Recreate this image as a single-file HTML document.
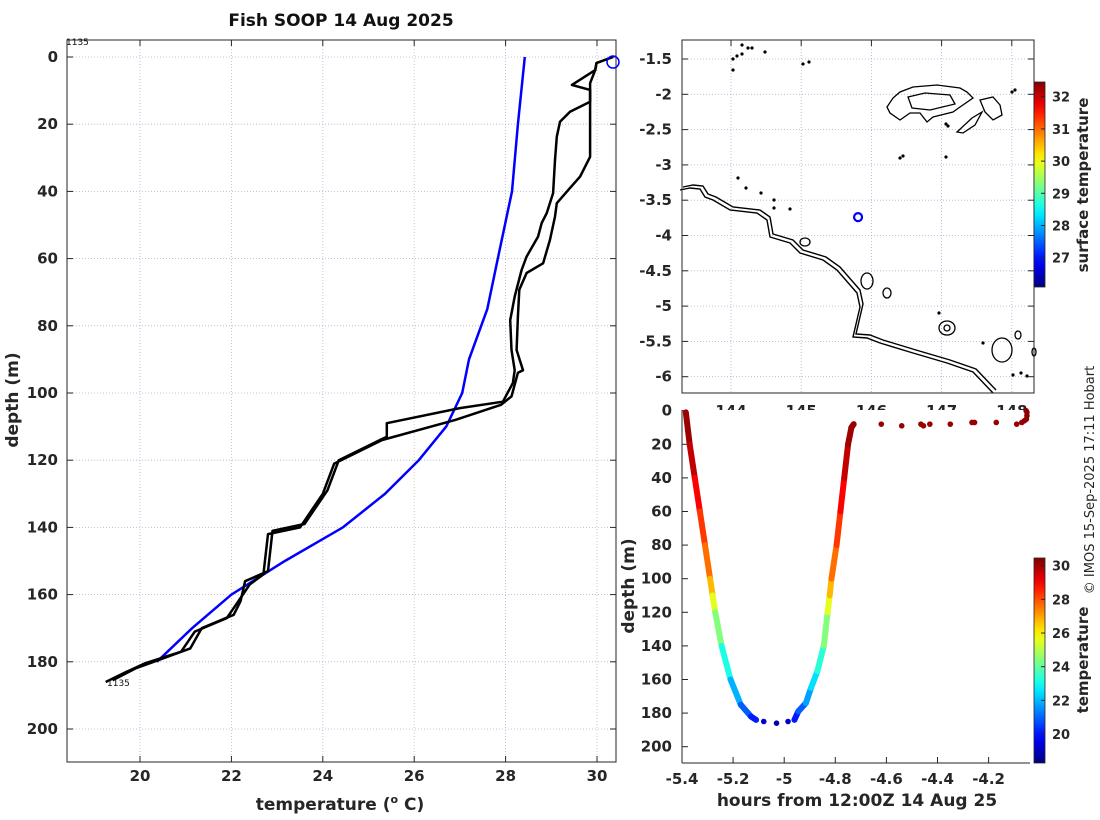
<!DOCTYPE html>
<html><head><meta charset="utf-8"><style>
html,body{margin:0;padding:0;background:#fff;}
svg{display:block;font-family:"DejaVu Sans","Liberation Sans",sans-serif;}
.t{font-weight:bold;font-size:15px;fill:#262626;}
</style></head><body>
<svg id="s" width="1100" height="820" viewBox="0 0 1100 820">
<defs>
<linearGradient id="jet" x1="0" y1="1" x2="0" y2="0"></linearGradient>
</defs>
<g id="left"></g>
<g id="map"></g>
<g id="br"></g>
<text x="1094" y="480" transform="rotate(-90 1094 480)" text-anchor="middle" font-size="13" fill="#262626">© IMOS 15-Sep-2025 17:11 Hobart</text>
</svg>
<script>
// ---------- Profile chart data ----------
const climDepth=[0,20,40,60,75,90,100,110,120,130,140,150,160,170,180];
const climTemp=[28.42,28.27,28.14,27.83,27.6,27.2,27.05,26.7,26.1,25.36,24.44,23.17,22.0,21.14,20.37];
const castDepthA=[0,1.8,3.9,8.3,9.8,13.3,16.3,19.3,23.7,30.7,40.5,46.5,49.4,53.5,59.4,63.4,71.3,78.3,87.2,93.2,97,102.6,104.5,109,113,120,129,139,141,153,156,162,166,170,176,180,182,185.5];
const castTempA=[30.35,29.99,29.96,29.45,29.85,29.85,29.41,29.19,29.12,29.08,29.04,28.9,28.79,28.71,28.46,28.35,28.2,28.1,28.13,28.2,28.16,27.94,27.0,25.4,25.4,24.35,24.1,23.6,22.9,22.8,22.3,22.2,22.05,21.35,21.1,20.3,19.9,19.4];
const castDepthB=[0,1.8,3.9,7.8,29.7,35.6,39.6,43.5,47.5,54.5,61.4,64.3,69.3,77.3,87.2,93.2,94,101,103.5,108,114,121,130,140,142,154,157,163,167,171,177,180.5,183,186];
const castTempB=[30.35,29.99,29.96,29.85,29.85,29.63,29.37,29.12,29.08,28.97,28.82,28.46,28.3,28.27,28.24,28.38,28.27,28.13,27.9,26.9,25.3,24.25,24.0,23.5,22.8,22.7,22.4,22.1,21.9,21.2,20.9,20.1,19.7,19.25];
const profXTicks=[20,22,24,26,28,30];
const profYTicks=[0,20,40,60,80,100,120,140,160,180,200];
// ---------- Map data ----------
const mapLonTicks=[144,145,146,147,148];
const mapLatTicks=[-1.5,-2,-2.5,-3,-3.5,-4,-4.5,-5,-5.5,-6];
const shipLon=[145.81];
const shipLat=[-3.74];
const sstTicks=[27,28,29,30,31,32];
// ---------- Depth-time data ----------
const dtHours=[-5.385,-5.37,-5.35,-5.33,-5.31,-5.29,-5.28,-5.27,-5.245,-5.21,-5.17,-5.13,-5.11,-4.96,-4.945,-4.915,-4.895,-4.87,-4.845,-4.83,-4.822,-4.815,-4.795,-4.78,-4.765,-4.75,-4.737,-4.728];
const dtDepth=[1,20,40,60,80,100,110,120,140,160,175,182,184,184,179,174,165,155,140,120,110,100,80,60,40,20,10,8];
const dtTemp=[30.3,30.0,29.4,28.6,28.0,27.3,26.2,25.0,23.9,22.5,21.4,20.5,19.8,19.6,20.6,21.3,22.2,22.8,23.9,25.0,26.2,27.3,28.0,28.6,29.4,30.0,30.2,30.2];
const dotHours=[-5.08,-5.03,-4.985,-4.62,-4.54,-4.465,-4.455,-4.43,-4.35,-4.265,-4.255,-4.17,-4.09,-4.07,-4.06,-4.052,-4.05,-4.05,-4.053];
const dotDepth=[185,186,185,8,9,8,9,8,8,7,7,7,8,7,6,5,3,1,0];
const dotTemp=[19.3,18.8,19.2,30.2,30.2,30.2,30.2,30.2,30.2,30.2,30.2,30.2,30.2,30.2,30.3,30.3,30.3,30.3,30.3];
const dtXTicks=[-5.4,-5.2,-5,-4.8,-4.6,-4.4,-4.2];
const dtYTicks=[0,20,40,60,80,100,120,140,160,180,200];
const tempTicks=[20,22,24,26,28,30];

const NS="http://www.w3.org/2000/svg";
function mk(parent,tag,attrs,text){const e=document.createElementNS(NS,tag);for(const k in attrs)e.setAttribute(k,attrs[k]);if(text!==undefined)e.textContent=text;parent.appendChild(e);return e;}
function jet(v){v=Math.max(0,Math.min(1,v));
 const r=Math.max(0,Math.min(1,1.5-Math.abs(4*v-3))),g=Math.max(0,Math.min(1,1.5-Math.abs(4*v-2))),b=Math.max(0,Math.min(1,1.5-Math.abs(4*v-1)));
 return `rgb(${Math.round(r*255)},${Math.round(g*255)},${Math.round(b*255)})`;}
(function(){const lg=document.getElementById('jet');for(let i=0;i<=20;i++)mk(lg,'stop',{offset:i/20,'stop-color':jet(i/20)});})();
const GRID="#aab4d6";

// ===== Left profile =====
(function(){
const g=document.getElementById('left');
const L=67,R=616,T=40,B=762;
const X=t=>140+(t-20)*45.7, Y=d=>57+d*3.36;
mk(g,'text',{x:341,y:26,'text-anchor':'middle','font-size':17,'font-weight':'bold',fill:'#111',},'Fish SOOP 14 Aug 2025');
mk(g,'rect',{x:L,y:T,width:R-L,height:B-T,fill:'#fff',stroke:'none'});
profXTicks.forEach((v,i)=>{const gl=mk(g,'line',{x1:X(v),x2:X(v),y1:T,y2:B,stroke:i%2?'#d8b89a':GRID,'stroke-width':0.8,'stroke-dasharray':'1,2'});
 const tk=mk(g,'text',{x:X(v),y:781,'text-anchor':'middle',class:'t'},String(v));
 mk(g,'line',{x1:X(v),x2:X(v),y1:B,y2:B-6,stroke:'#262626'});mk(g,'line',{x1:X(v),x2:X(v),y1:T,y2:T+6,stroke:'#262626'});});
profYTicks.forEach(v=>{mk(g,'line',{x1:L,x2:R,y1:Y(v),y2:Y(v),stroke:GRID,'stroke-width':0.8,'stroke-dasharray':'1,2'});
 const tk=mk(g,'text',{x:58,y:Y(v)+5,'text-anchor':'end',class:'t'},String(v));
 mk(g,'line',{x1:L,x2:L+6,y1:Y(v),y2:Y(v),stroke:'#262626'});mk(g,'line',{x1:R,x2:R-6,y1:Y(v),y2:Y(v),stroke:'#262626'});});
mk(g,'rect',{x:L,y:T,width:R-L,height:B-T,fill:'none',stroke:'#262626','stroke-width':1});
const pts=(ts,ds)=>ts.map((t,i)=>X(t).toFixed(1)+','+Y(ds[i]).toFixed(1)).join(' ');
let e=mk(g,'polyline',{points:pts(climTemp,climDepth),fill:'none',stroke:'#0000ff','stroke-width':2.5});

e=mk(g,'polyline',{points:pts(castTempA,castDepthA),fill:'none',stroke:'#000','stroke-width':2.5,'stroke-linejoin':'round'});

e=mk(g,'polyline',{points:pts(castTempB,castDepthB),fill:'none',stroke:'#000','stroke-width':2.5,'stroke-linejoin':'round'});

e=mk(g,'circle',{cx:X(castTempA[0]),cy:Y(1.5),r:6,fill:'none',stroke:'#0000ff','stroke-width':1.5});

mk(g,'text',{x:66,y:45,'font-size':9,fill:'#111'},'1135');
mk(g,'text',{x:107,y:686,'font-size':9,fill:'#111'},'1135');
e=mk(g,'text',{x:18,y:400,transform:'rotate(-90 18 400)','text-anchor':'middle','font-size':17,'font-weight':'bold',fill:'#262626'},'depth (m)');

e=mk(g,'text',{x:340,y:810,'text-anchor':'middle','font-size':17,'font-weight':'bold',fill:'#262626'});
e.innerHTML='temperature (<tspan dy="-7" font-size="11">o</tspan><tspan dy="7"> C)</tspan>';

})();

// ===== Map =====
(function(){
const g=document.getElementById('map');
const L=682,R=1034,T=40,B=393;
const X=lon=>731+(lon-144)*70.2, Y=lat=>59+(-1.5-lat)*70.6;
mapLonTicks.forEach(v=>{mk(g,'line',{x1:X(v),x2:X(v),y1:T,y2:B,stroke:GRID,'stroke-width':0.8,'stroke-dasharray':'1,2'});
 mk(g,'line',{x1:X(v),x2:X(v),y1:T,y2:T+6,stroke:'#262626'});
 const tk=mk(g,'text',{x:X(v),y:416,'text-anchor':'middle',class:'t'},String(v));});
mapLatTicks.forEach(v=>{mk(g,'line',{x1:L,x2:R,y1:Y(v),y2:Y(v),stroke:GRID,'stroke-width':0.8,'stroke-dasharray':'1,2'});
 mk(g,'line',{x1:R,x2:R-6,y1:Y(v),y2:Y(v),stroke:'#262626'});mk(g,'line',{x1:L,x2:L+6,y1:Y(v),y2:Y(v),stroke:'#262626'});
 const tk=mk(g,'text',{x:672,y:Y(v)+5,'text-anchor':'end',class:'t'},String(v));});
const coast="M680,190 L690,188 L700,189 L705,197 L713,200 L730,210 L757,213 L767,220 L770,237 L790,243 L800,253 L823,260 L837,270 L857,293 L860,307 L853,337 L867,338 L880,343 L913,353 L947,363 L973,372 L993,393";
let e=mk(g,'path',{d:coast,fill:'none',stroke:'#000','stroke-width':1.4});
mk(g,'path',{d:coast,transform:'translate(3,-3)',fill:'none',stroke:'#000','stroke-width':1.4});
const isl=["M887,107 L893,98 L900,92 L913,87 L937,85 L960,88 L967,92 L973,98 L960,107 L953,112 L933,117 L927,122 L920,113 L910,113 L900,120 L890,113 Z",
"M980,100 L993,97 L1000,105 L1002,115 L993,120 L985,112 Z","M957,132 L972,118 L982,112 L975,125 L963,133 Z",
"M908,97 L925,93 L950,95 L955,104 L930,110 L912,108 Z"];
isl.forEach(d=>mk(g,'path',{d:d,fill:'none',stroke:'#000','stroke-width':1.3}));
[[867,281,6,8],[887,293,4,5],[947,328,8,7],[947,328,3,3],[1002,350,10,12],[1018,335,3,4],[805,242,5,4],[1034,352,2,4]].forEach(c=>mk(g,'ellipse',{cx:c[0],cy:c[1],rx:c[2],ry:c[3],fill:'none',stroke:'#000','stroke-width':1.3}));
[[742,45],[748,48],[737,56],[742,54],[752,48],[765,52],[733,59],[733,70],[803,64],[809,62],[900,158],[903,156],[946,157],[738,178],[746,188],[761,193],[774,200],[774,208],[790,209],[939,313],[983,343],[1013,375],[1021,373],[1027,376],[1012,92],[1015,90],[948,126],[946,124]].forEach(p=>mk(g,'circle',{cx:p[0],cy:p[1],r:1.6,fill:'#000'}));
mk(g,'rect',{x:L,y:T,width:R-L,height:B-T,fill:'none',stroke:'#262626','stroke-width':1});
shipLon.forEach((lon,i)=>{const c=mk(g,'circle',{cx:X(lon),cy:Y(shipLat[i]),r:4,fill:'none',stroke:'#0000ff','stroke-width':2.2});
 });
const CY=v=>96.7+(32-v)*32.2;
e=mk(g,'rect',{x:1034,y:82,width:11,height:205,fill:'url(#jet)',stroke:'#262626','stroke-width':0.8});

sstTicks.forEach(v=>{mk(g,'line',{x1:1045,x2:1041,y1:CY(v),y2:CY(v),stroke:'#262626'});
 mk(g,'text',{x:1052,y:CY(v)+5,class:'t',style:'font-size:13px'},String(v));});
e=mk(g,'text',{x:1088,y:185,transform:'rotate(-90 1088 185)','text-anchor':'middle','font-size':15,'font-weight':'bold',fill:'#262626'},'surface temperature');

})();

// ===== Depth-time =====
(function(){
const g=document.getElementById('br');
const L=682,R=1034,T=410,B=763;
const X=h=>682+(h+5.4)*255.5, Y=d=>410.7+d*1.68;
const TMIN=18.3,TMAX=30.5,col=t=>jet((t-TMIN)/(TMAX-TMIN));
mk(g,'rect',{x:L,y:T,width:R-L,height:B-T,fill:'#fff'});
mk(g,'line',{x1:L,x2:L,y1:T,y2:B,stroke:'#262626'});mk(g,'line',{x1:L,x2:1030,y1:B,y2:B,stroke:'#262626'});
dtXTicks.forEach(v=>{mk(g,'line',{x1:X(v),x2:X(v),y1:B,y2:B-6,stroke:'#262626'});
 const tk=mk(g,'text',{x:X(v),y:784,'text-anchor':'middle',class:'t'},String(v));});
dtYTicks.forEach(v=>{mk(g,'line',{x1:L,x2:L+6,y1:Y(v),y2:Y(v),stroke:'#262626'});
 const tk=mk(g,'text',{x:672,y:Y(v)+5,'text-anchor':'end',class:'t'},String(v));});
for(let i=0;i<dtHours.length-1;i++){
 if(i===12)continue;
 const s=mk(g,'line',{x1:X(dtHours[i]),y1:Y(dtDepth[i]),x2:X(dtHours[i+1]),y2:Y(dtDepth[i+1]),stroke:col((dtTemp[i]+dtTemp[i+1])/2),'stroke-width':6,'stroke-linecap':'round'});
 
 }
dotHours.forEach((h,i)=>{const c=mk(g,'circle',{cx:X(h),cy:Y(dotDepth[i]),r:2.8,fill:col(dotTemp[i])});
 
 });
let e=mk(g,'text',{x:857,y:806,'text-anchor':'middle','font-size':17,'font-weight':'bold',fill:'#262626'},'hours from 12:00Z 14 Aug 25');

e=mk(g,'text',{x:634,y:586,transform:'rotate(-90 634 586)','text-anchor':'middle','font-size':17,'font-weight':'bold',fill:'#262626'},'depth (m)');

const CY=v=>565.7+(30-v)*16.83;
e=mk(g,'rect',{x:1034,y:558,width:11,height:205,fill:'url(#jet)',stroke:'#262626','stroke-width':0.8});

tempTicks.forEach(v=>{mk(g,'line',{x1:1045,x2:1041,y1:CY(v),y2:CY(v),stroke:'#262626'});
 mk(g,'text',{x:1052,y:CY(v)+5,class:'t',style:'font-size:13px'},String(v));});
e=mk(g,'text',{x:1088,y:660,transform:'rotate(-90 1088 660)','text-anchor':'middle','font-size':15,'font-weight':'bold',fill:'#262626'},'temperature');

})();
</script>
</body></html>
